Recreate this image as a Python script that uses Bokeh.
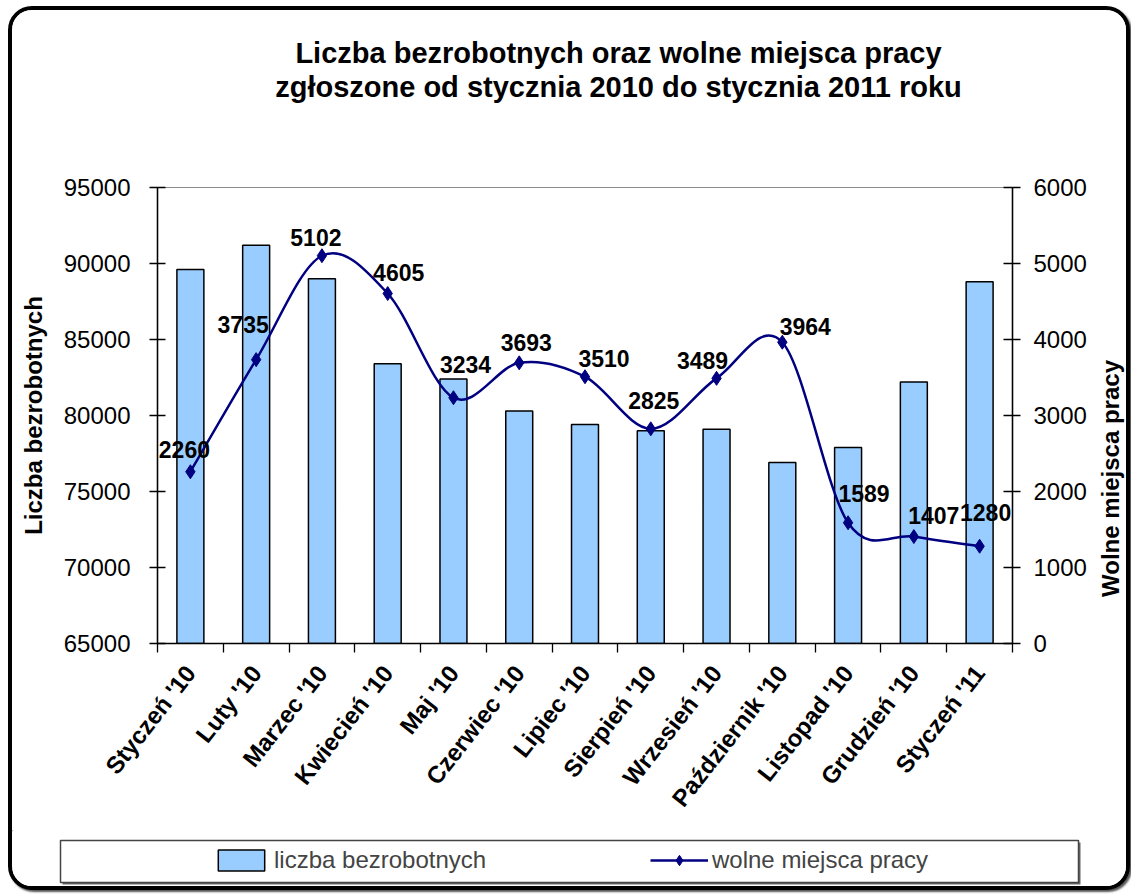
import math
from bokeh.plotting import figure
from bokeh.layouts import column, row
from bokeh.models import (Range1d, LinearAxis, FixedTicker, ColumnDataSource, LabelSet,
                          Legend, LegendItem, CustomJSTickFormatter, Plot)
from bokeh.embed import file_html
from bokeh.resources import INLINE
from bokeh.core.properties import value

# ---------------- data ----------------
months = ["Styczeń '10", "Luty '10", "Marzec '10", "Kwiecień '10", "Maj '10", "Czerwiec '10",
          "Lipiec '10", "Sierpień '10", "Wrzesień '10", "Październik '10", "Listopad '10",
          "Grudzień '10", "Styczeń '11"]
unemployed = [89600, 91200, 89000, 83400, 82400, 80300, 79400, 79000, 79100, 76900, 77900, 82200, 88800]
vacancies = [2260, 3735, 5102, 4605, 3234, 3693, 3510, 2825, 3489, 3964, 1589, 1407, 1280]
left_ticks = [65000, 70000, 75000, 80000, 85000, 90000, 95000]
right_ticks = [0, 1000, 2000, 3000, 4000, 5000, 6000]

title_lines = ["Liczba bezrobotnych oraz wolne miejsca pracy",
               "zgłoszone od  stycznia 2010 do stycznia 2011 roku"]
left_title = "Liczba bezrobotnych"
right_title = "Wolne miejsca pracy"
series_names = ["liczba bezrobotnych", "wolne miejsca pracy"]

# label offsets in screen pixels (style, not data)
label_dx = [-6, -13, -6, 11, 12, 7, 19, 3, -14, 23, 16, 20, 6]
label_dy = [22, 35, 18, 21, 33, 20, 18, 28, 18, 16, 29, 21, 34]

# ---------------- styling ----------------
FONT = "Liberation Sans"
BAR_FILL = "#99CCFF"
LINE_COL = "#000080"

n = len(months)
xs = [i + 0.5 for i in range(n)]

# page geometry: content origin on the page, plot frame edges on the page
CX, CY = 12, 10
W = 1114
X_RIGHT_STRIP = 1090  # right label strip: page x 1090 .. 1126
Y_TITLE_END = 150     # title strip: page y 10 .. 150
Y_MAIN_END = 830      # main chart: page y 150 .. 830
Y_END = 886           # legend strip: page y 830 .. 886
F_L, F_R, F_T, F_B = 157, 1012, 187, 643
HAS_FA = "frame_align" in Plot.properties()


def strip(x0, x1, y0, y1):
    f = figure(width=x1 - x0, height=y1 - y0, output_backend="svg", toolbar_location=None,
               x_range=Range1d(x0, x1), y_range=Range1d(y1, y0),
               x_axis_location=None, y_axis_location=None,
               min_border_left=0, min_border_right=0, min_border_top=0, min_border_bottom=0,
               background_fill_color="white", border_fill_color="white", outline_line_color=None)
    f.xgrid.visible = False
    f.ygrid.visible = False
    if HAS_FA:
        f.frame_align = False
    return f


# ---------------- title strip ----------------
tf = strip(CX, CX + W, CY, Y_TITLE_END)
tf.text(x=[618, 622], y=[52, 86], text=title_lines, text_align="center", text_baseline="middle",
        text_font=value(FONT), text_font_style="bold", text_font_size="29px", text_color="black")

# ---------------- main chart ----------------
p = figure(width=X_RIGHT_STRIP - CX, height=Y_MAIN_END - Y_TITLE_END, output_backend="svg",
           toolbar_location=None, x_range=Range1d(0, n), y_range=Range1d(65000, 95000),
           x_axis_location=None, y_axis_location=None,
           min_border_left=F_L - CX, min_border_right=X_RIGHT_STRIP - F_R,
           min_border_top=F_T - Y_TITLE_END, min_border_bottom=Y_MAIN_END - F_B,
           background_fill_color="white", border_fill_color="white",
           outline_line_color="#8c8c8c", outline_line_width=1.2)
p.xgrid.visible = False
p.ygrid.visible = False
if HAS_FA:
    p.frame_align = False
p.extra_y_ranges = {"right": Range1d(0, 6000)}

xaxis = LinearAxis(ticker=FixedTicker(ticks=xs, minor_ticks=list(range(n + 1))),
                   formatter=CustomJSTickFormatter(args=dict(labels=months),
                                                   code="const i = Math.floor(tick); return (i >= 0 && i < labels.length) ? labels[i] : '';"))
xaxis.major_label_orientation = math.radians(52)
xaxis.major_tick_in = 0
xaxis.major_tick_out = 0
xaxis.minor_tick_in = 0
xaxis.minor_tick_out = 9
xaxis.minor_tick_line_color = "black"
xaxis.minor_tick_line_width = 1.3
xaxis.axis_line_color = "black"
xaxis.axis_line_width = 1.5
xaxis.major_label_standoff = 16
xaxis.major_label_text_font = FONT
xaxis.major_label_text_font_style = "bold"
xaxis.major_label_text_font_size = "24px"
xaxis.major_label_text_color = "black"
p.add_layout(xaxis, "below")

yaxis = LinearAxis(ticker=FixedTicker(ticks=left_ticks), axis_label=left_title)
yaxis.major_tick_in = 8
yaxis.major_tick_out = 8
yaxis.major_tick_line_width = 1.3
yaxis.axis_line_width = 1.5
yaxis.axis_line_color = "black"
yaxis.major_label_standoff = 19
yaxis.major_label_text_font = FONT
yaxis.major_label_text_font_size = "24px"
yaxis.major_label_text_color = "black"
yaxis.axis_label_text_font = FONT
yaxis.axis_label_text_font_style = "bold"
yaxis.axis_label_text_font_size = "24px"
yaxis.axis_label_text_color = "black"
yaxis.axis_label_standoff = 14
p.add_layout(yaxis, "left")

yaxis2 = LinearAxis(y_range_name="right", ticker=FixedTicker(ticks=right_ticks))
yaxis2.major_tick_in = 9
yaxis2.major_tick_out = 8
yaxis2.major_tick_line_width = 1.3
yaxis2.axis_line_width = 1.5
yaxis2.axis_line_color = "black"
yaxis2.major_label_standoff = 13
yaxis2.major_label_text_font = FONT
yaxis2.major_label_text_font_size = "24px"
yaxis2.major_label_text_color = "black"
p.add_layout(yaxis2, "right")

bar_src = ColumnDataSource(dict(x=xs, top=unemployed))
p.vbar(x="x", top="top", bottom=65000, width=0.41, source=bar_src,
       fill_color=BAR_FILL, line_color="black", line_width=1.5)

# smoothed line (Catmull-Rom style Bezier segments through the data points)
pts = list(zip(xs, vacancies))
bz = dict(x0=[], y0=[], x1=[], y1=[], cx0=[], cy0=[], cx1=[], cy1=[])
for i in range(n - 1):
    p0 = pts[max(i - 1, 0)]
    p1 = pts[i]
    p2 = pts[i + 1]
    p3 = pts[min(i + 2, n - 1)]
    bz["x0"].append(p1[0]); bz["y0"].append(p1[1])
    bz["x1"].append(p2[0]); bz["y1"].append(p2[1])
    bz["cx0"].append(p1[0] + (p2[0] - p0[0]) / 6.0)
    bz["cy0"].append(p1[1] + (p2[1] - p0[1]) / 6.0)
    bz["cx1"].append(p2[0] - (p3[0] - p1[0]) / 6.0)
    bz["cy1"].append(p2[1] - (p3[1] - p1[1]) / 6.0)
p.bezier(x0="x0", y0="y0", x1="x1", y1="y1", cx0="cx0", cy0="cy0", cx1="cx1", cy1="cy1",
         source=ColumnDataSource(bz), y_range_name="right", line_color=LINE_COL, line_width=2.5)

pt_src = ColumnDataSource(dict(x=xs, y=vacancies, text=[str(v) for v in vacancies],
                               dx=label_dx, dy=label_dy))
p.scatter(x="x", y="y", source=pt_src, y_range_name="right", marker="diamond", size=14,
          fill_color=LINE_COL, line_color=LINE_COL)

labels = LabelSet(x="x", y="y", text="text", x_offset="dx", y_offset="dy", source=pt_src,
                  y_range_name="right", text_align="center", text_baseline="middle",
                  text_font=value(FONT), text_font_style="bold", text_font_size="23px",
                  text_color="black")
p.add_layout(labels)

# ---------------- right axis title strip ----------------
rf = strip(X_RIGHT_STRIP, CX + W, Y_TITLE_END, Y_MAIN_END)
rf.text(x=[1110], y=[478], text=[right_title], angle=math.pi / 2, text_align="center",
        text_baseline="middle", text_font=value(FONT), text_font_style="bold",
        text_font_size="24px", text_color="black")

# ---------------- legend strip ----------------
lf = strip(CX, CX + W, Y_MAIN_END, Y_END)
lf.quad(left=[62], right=[1080], top=[842], bottom=[884], fill_color="#666666", line_color=None)
lf.quad(left=[60], right=[1078], top=[840], bottom=[882], fill_color="white",
        line_color="#444444", line_width=1.5)
# renderers that only feed the legend (their points lie outside the visible range)
lg_bar = lf.vbar(x=[-5000], top=[-5000], bottom=[-5001], width=1,
                 fill_color=BAR_FILL, line_color="black", line_width=1.5)
lg_line = lf.line(x=[-5000, -4999], y=[-5000, -5000], line_color=LINE_COL, line_width=2.5)
lg_mark = lf.scatter(x=[-5000], y=[-5000], marker="diamond", size=14,
                     fill_color=LINE_COL, line_color=LINE_COL)

legend = Legend(items=[LegendItem(label=series_names[0], renderers=[lg_bar]),
                       LegendItem(label=series_names[1], renderers=[lg_line, lg_mark])],
                orientation="horizontal", location=(204 - CX, Y_END - 882),
                padding=8, spacing=162, glyph_width=58, glyph_height=26, label_standoff=4,
                label_width=214, label_height=26, label_text_font=FONT, label_text_font_size="24px",
                background_fill_alpha=0, border_line_alpha=0, margin=0)
lf.add_layout(legend)

layout = column(tf, row(p, rf, spacing=0), lf, spacing=0,
                styles={"border": "4px solid black", "border-radius": "24px",
                        "box-shadow": "2px 2px 2px #555555", "margin-left": "8px",
                        "margin-top": "6px", "overflow": "hidden", "background-color": "white"})

open("out.html", "w").write(file_html(layout, INLINE))
